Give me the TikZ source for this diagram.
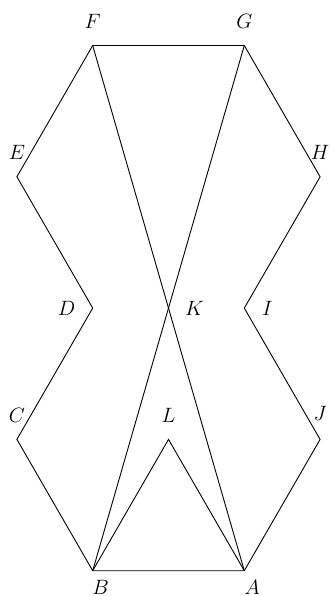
\documentclass[tikz,border=0pt]{standalone}
\begin{document}
\begin{tikzpicture}[x=1pt,y=-1pt,
  edge/.style={line width=0.9pt,line join=miter},
  lbl/.style={inner sep=0pt,font=\fontsize{20}{24}\selectfont}]
\useasboundingbox (0,0) rectangle (329,596);
\coordinate (B) at (92.7,570.7);
\coordinate (A) at (244.3,570.7);
\coordinate (J) at (320.1,439.4);
\coordinate (I) at (244.3,308.1);
\coordinate (H) at (320.1,176.8);
\coordinate (G) at (244.3,45.5);
\coordinate (F) at (92.7,45.5);
\coordinate (E) at (16.9,176.8);
\coordinate (D) at (92.7,308.1);
\coordinate (C) at (16.9,439.4);
\coordinate (L) at (168.5,439.4);
\coordinate (K) at (168.5,308.1);
\draw[edge] (B) -- (A) -- (J) -- (I) -- (H) -- (G) -- (F) -- (E) -- (D) -- (C) -- cycle;
\draw[edge] (F) -- (A);
\draw[edge] (G) -- (B);
\draw[edge] (B) -- (L) -- (A);
\node[lbl] (lF) at ([yshift=24]F) {$F$};
\node[lbl] (lG) at ([yshift=24]G) {$G$};
\node[lbl] (lE) at ([yshift=24]E) {$E$};
\node[lbl] (lH) at ([yshift=24]H) {$H$};
\node[lbl] (lD) at ([xshift=-26]D) {$D$};
\node[lbl] (lK) at ([xshift=26]K) {$K$};
\node[lbl] (lI) at ([xshift=23]I) {$I$};
\node[lbl] (lC) at ([yshift=24]C) {$C$};
\node[lbl] (lL) at ([yshift=24]L) {$L$};
\node[lbl] (lJ) at ([yshift=26]J) {$J$};
\node[lbl] (lB) at ([xshift=8,yshift=-17]B) {$B$};
\node[lbl] (lA) at ([xshift=8,yshift=-17]A) {$A$};
\end{tikzpicture}
\end{document}
